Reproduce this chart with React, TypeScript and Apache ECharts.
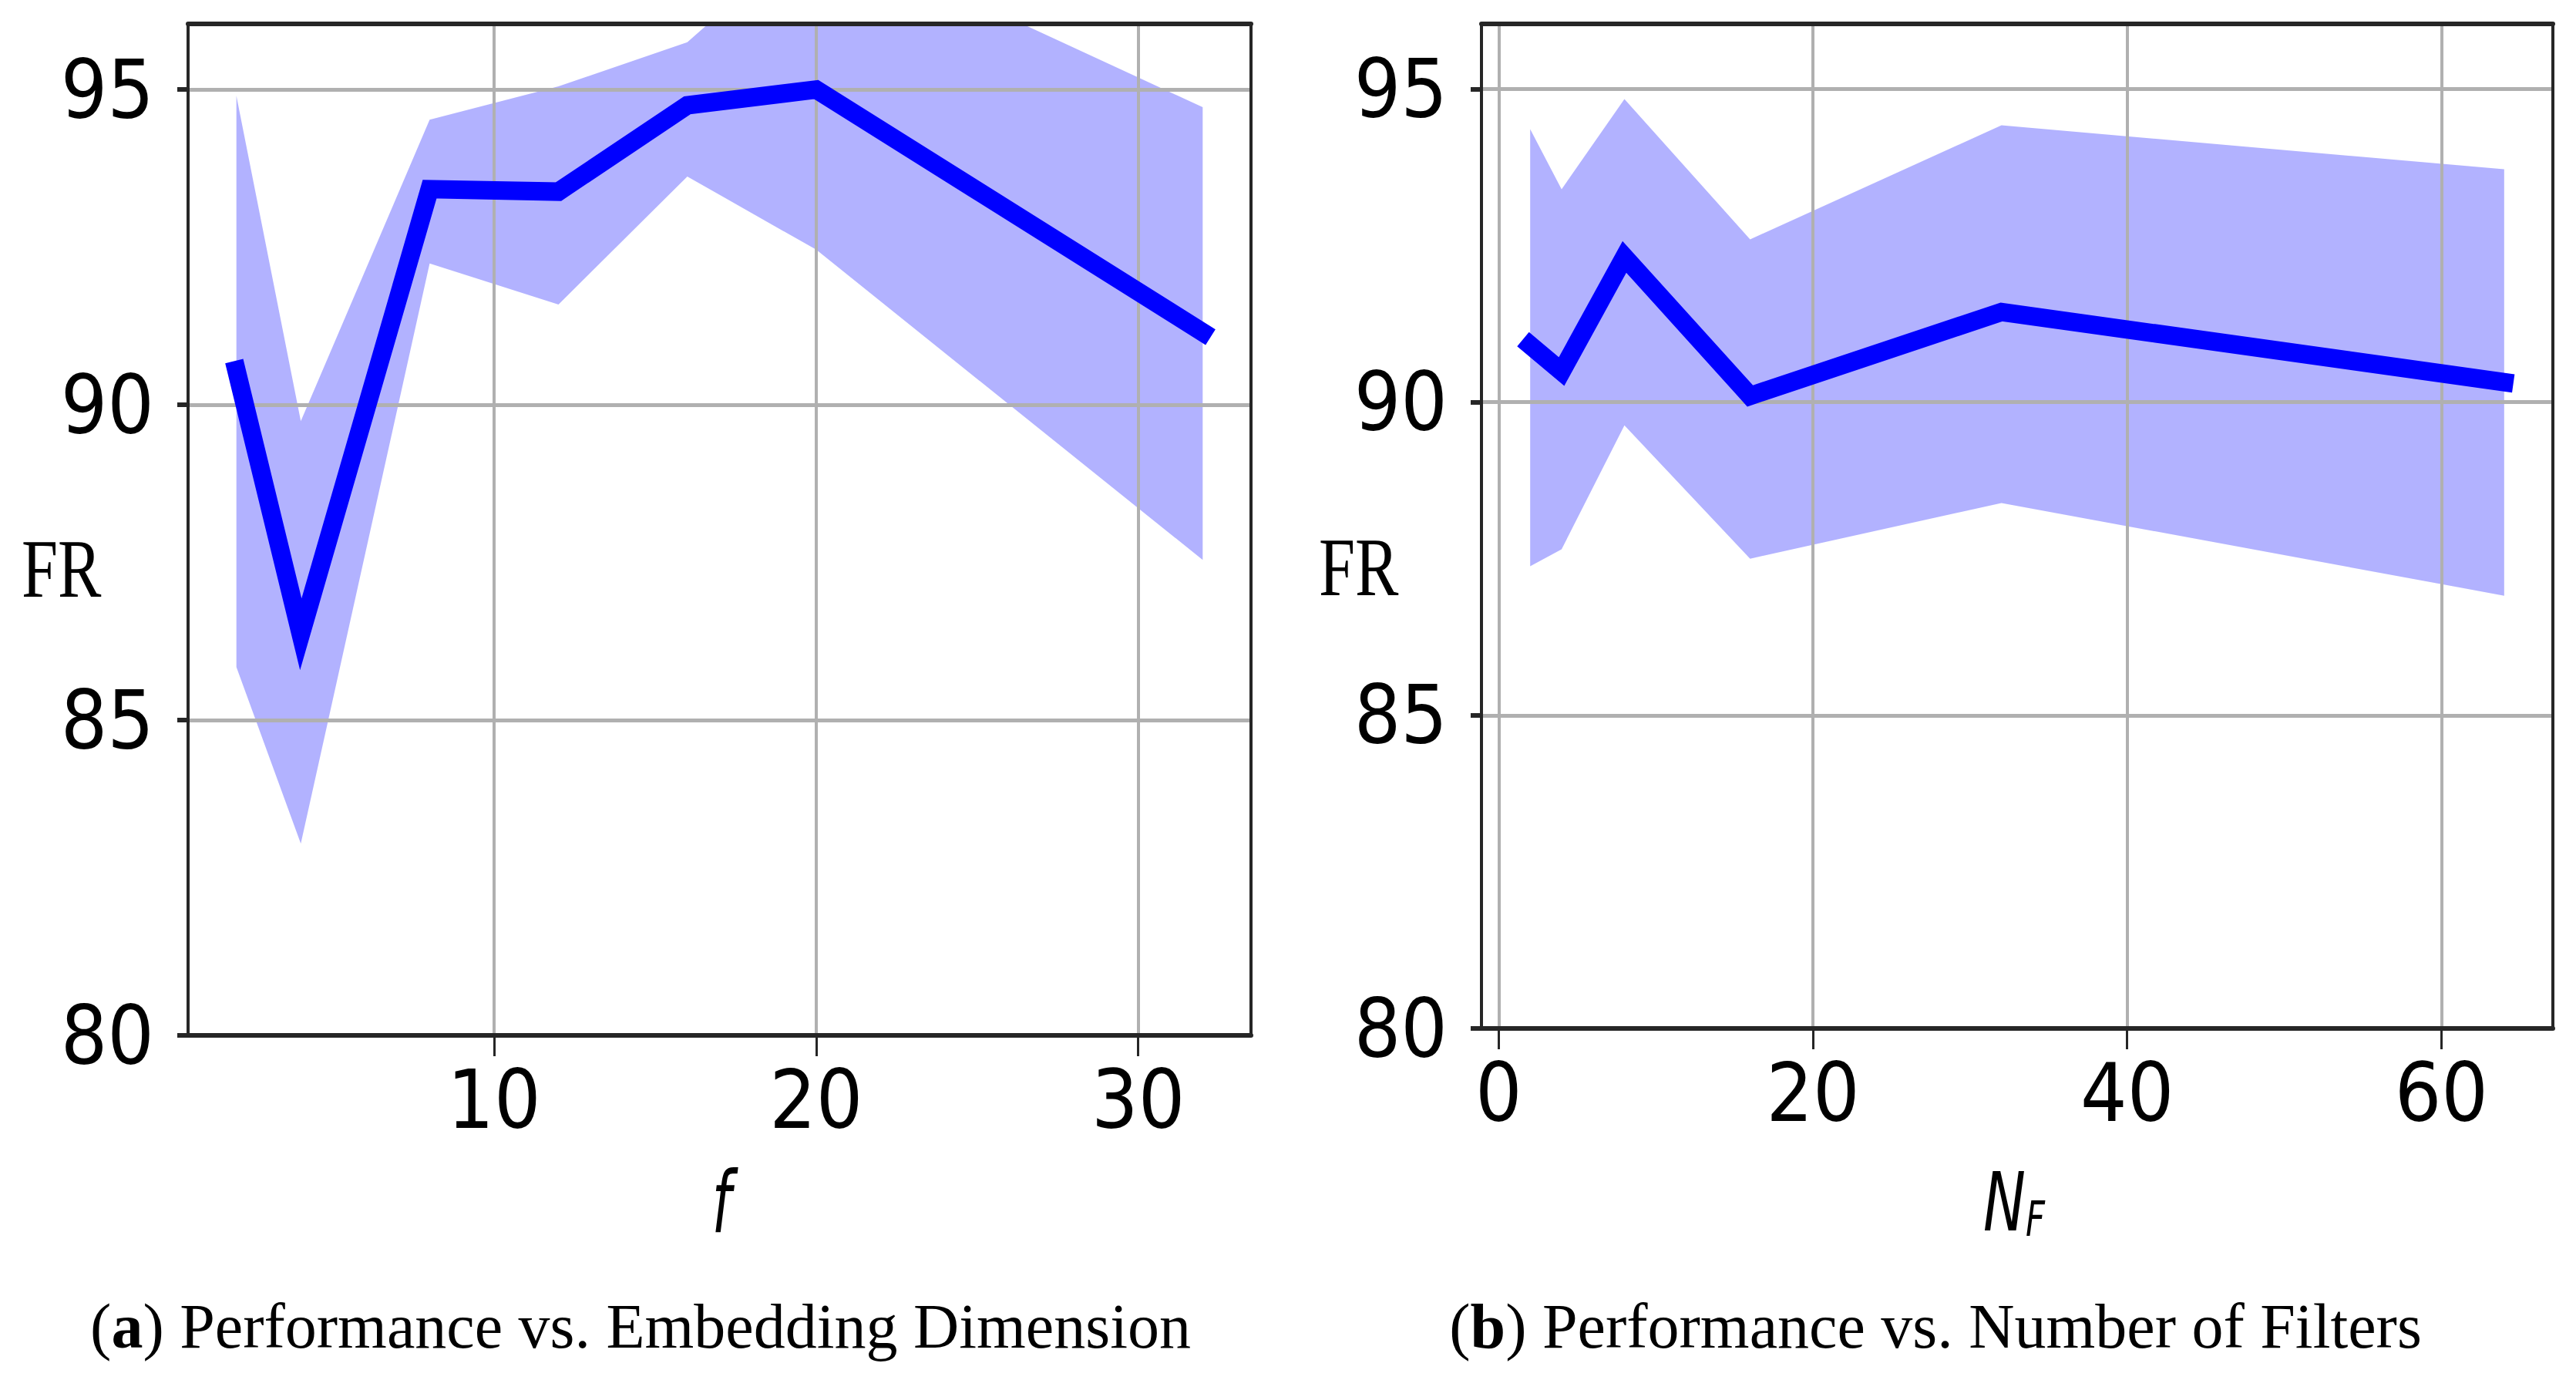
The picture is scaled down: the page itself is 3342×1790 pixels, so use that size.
import React, { useEffect, useRef } from "react";
import * as echarts from "echarts";

// Panel (a): performance vs embedding dimension f
const fValues = [2, 4, 8, 12, 16, 20, 32];
const fMean = [90.55, 86.36, 93.42, 93.38, 94.75, 95.0, 91.15];
const fUpper = [94.9, 89.74, 94.52, 95.05, 95.75, 97.55, 94.72];
const fLower = [85.84, 83.04, 92.24, 91.59, 93.62, 92.46, 87.54];

// Panel (b): performance vs number of filters N_F
const nfValues = [2, 4, 8, 16, 32, 64];
const nfMean = [90.91, 90.49, 92.32, 90.1, 91.44, 90.32];
const nfUpper = [94.36, 93.4, 94.84, 92.6, 94.42, 93.72];
const nfLower = [87.38, 87.65, 89.63, 87.5, 88.39, 86.91];

const yTicks = [80, 85, 90, 95];
const fTicks = [10, 20, 30];
const nfTicks = [0, 20, 40, 60];

const captionA = "({b|a}) Performance vs. Embedding Dimension";
const captionB = "({b|b}) Performance vs. Number of Filters";

const TICK_FONT = '"DejaVu Sans Condensed", "Liberation Sans Narrow", "DejaVu Sans", sans-serif';
const SERIF = '"Liberation Serif", "DejaVu Serif", serif';
const SPINE = "#262626";
const GRIDC = "#b0b0b0";

function bandSeries(xAxisIndex: number, yAxisIndex: number, xs: number[], lo: number[], hi: number[]) {
  return {
    type: "custom",
    xAxisIndex,
    yAxisIndex,
    clip: true,
    z: 1,
    silent: true,
    data: xs.map((x, i) => [x, lo[i], hi[i]]),
    encode: { x: 0, y: [1, 2] },
    renderItem: (params: any, api: any) => {
      if (params.dataIndex !== 0) return null;
      const pts: number[][] = [];
      for (let i = 0; i < xs.length; i++) pts.push(api.coord([xs[i], hi[i]]));
      for (let i = xs.length - 1; i >= 0; i--) pts.push(api.coord([xs[i], lo[i]]));
      return {
        type: "polygon",
        shape: { points: pts },
        style: { fill: "rgba(0,0,255,0.3)", stroke: "none" },
      };
    },
  };
}

function lineSeries(xAxisIndex: number, yAxisIndex: number, xs: number[], ys: number[]) {
  return {
    type: "line",
    xAxisIndex,
    yAxisIndex,
    z: 3,
    symbol: "none",
    showSymbol: false,
    clip: true,
    data: xs.map((x, i) => [x, ys[i]]),
    lineStyle: { color: "#0000ff", width: 24, cap: "square", join: "miter" },
    itemStyle: { color: "#0000ff" },
  };
}

function bottomX(gridIndex: number, min: number, max: number, ticks: number[]) {
  return {
    type: "value",
    gridIndex,
    position: "bottom",
    min,
    max,
    z: 2,
    axisLine: { show: true, onZero: false, lineStyle: { color: SPINE, width: 6 } },
    axisTick: { show: true, length: 27, customValues: ticks, lineStyle: { color: SPINE, width: 3 } },
    axisLabel: {
      show: true,
      customValues: ticks,
      margin: 30,
      fontSize: 106,
      fontFamily: TICK_FONT,
      color: "#000",
    },
    splitLine: { show: true, lineStyle: { color: GRIDC, width: 4 } },
  };
}

function topX(gridIndex: number, min: number, max: number) {
  return {
    type: "value",
    gridIndex,
    position: "top",
    min,
    max,
    z: 2,
    axisLine: { show: true, onZero: false, lineStyle: { color: SPINE, width: 6 } },
    axisTick: { show: false },
    axisLabel: { show: false },
    splitLine: { show: false },
  };
}

function leftY(gridIndex: number) {
  return {
    type: "value",
    gridIndex,
    position: "left",
    min: 80,
    max: 96.04,
    z: 2,
    axisLine: { show: true, onZero: false, lineStyle: { color: SPINE, width: 4 } },
    axisTick: { show: true, length: 14, customValues: yTicks, lineStyle: { color: SPINE, width: 6 } },
    axisLabel: {
      show: true,
      customValues: yTicks,
      margin: 44,
      fontSize: 106,
      fontFamily: TICK_FONT,
      color: "#000",
    },
    splitLine: { show: true, lineStyle: { color: GRIDC, width: 5 } },
  };
}

function rightY(gridIndex: number) {
  return {
    type: "value",
    gridIndex,
    position: "right",
    min: 80,
    max: 96.04,
    z: 2,
    axisLine: { show: true, onZero: false, lineStyle: { color: SPINE, width: 4 } },
    axisTick: { show: false },
    axisLabel: { show: false },
    splitLine: { show: false },
  };
}

export default function App() {
  const ref = useRef<HTMLDivElement>(null);

  useEffect(() => {
    if (!ref.current) return;
    const chart = echarts.init(ref.current, undefined, { renderer: "svg" });
    const option: any = {
      animation: false,
      backgroundColor: "#ffffff",
      grid: [
        { left: 244, top: 31, width: 1379, height: 1312 },
        { left: 1922, top: 31, width: 1390, height: 1303 },
      ],
      xAxis: [
        bottomX(0, 0.5, 33.5, fTicks),
        topX(0, 0.5, 33.5),
        bottomX(1, -1.1, 67.1, nfTicks),
        topX(1, -1.1, 67.1),
      ],
      yAxis: [leftY(0), rightY(0), leftY(1), rightY(1)],
      series: [
        bandSeries(0, 0, fValues, fLower, fUpper),
        lineSeries(0, 0, fValues, fMean),
        bandSeries(2, 2, nfValues, nfLower, nfUpper),
        lineSeries(2, 2, nfValues, nfMean),
      ],
      graphic: [
        {
          type: "text",
          x: 28,
          y: 738,
          scaleX: 0.79,
          style: { text: "FR", fontSize: 107, fontFamily: SERIF, fill: "#000", align: "left", verticalAlign: "middle" },
        },
        {
          type: "text",
          x: 1711,
          y: 736,
          scaleX: 0.79,
          style: { text: "FR", fontSize: 107, fontFamily: SERIF, fill: "#000", align: "left", verticalAlign: "middle" },
        },
        {
          type: "text",
          x: 936,
          y: 1560,
          scaleX: 0.65,
          style: {
            text: "f",
            fontSize: 110,
            fontStyle: "italic",
            fontFamily: '"DejaVu Sans", sans-serif',
            fill: "#000",
            align: "center",
            verticalAlign: "middle",
          },
        },
        {
          type: "text",
          x: 2613,
          y: 1560,
          scaleX: 0.7,
          style: {
            text: "{n|N}{s|F}",
            fill: "#000",
            align: "center",
            verticalAlign: "middle",
            rich: {
              n: {
                fontSize: 105,
                lineHeight: 105,
                fontStyle: "italic",
                fontFamily: '"DejaVu Sans", sans-serif',
                verticalAlign: "top",
                padding: [0, 0, 6, 0],
              },
              s: {
                fontSize: 62,
                lineHeight: 62,
                fontStyle: "italic",
                fontFamily: '"DejaVu Sans", sans-serif',
                verticalAlign: "bottom",
              },
            },
          },
        },
        {
          type: "text",
          x: 831,
          y: 1720,
          style: {
            text: captionA,
            fontSize: 82,
            fontFamily: SERIF,
            fill: "#000",
            align: "center",
            verticalAlign: "middle",
            rich: { b: { fontSize: 82, fontFamily: SERIF, fontWeight: "bold" } },
          },
        },
        {
          type: "text",
          x: 2511,
          y: 1720,
          style: {
            text: captionB,
            fontSize: 82,
            fontFamily: SERIF,
            fill: "#000",
            align: "center",
            verticalAlign: "middle",
            rich: { b: { fontSize: 82, fontFamily: SERIF, fontWeight: "bold" } },
          },
        },
      ],
    };
    chart.setOption(option);
    return () => chart.dispose();
  }, []);

  return (
    <div
      ref={ref}
      style={{ position: "absolute", left: 0, top: 0, width: 3342, height: 1790, background: "#fff" }}
    />
  );
}
